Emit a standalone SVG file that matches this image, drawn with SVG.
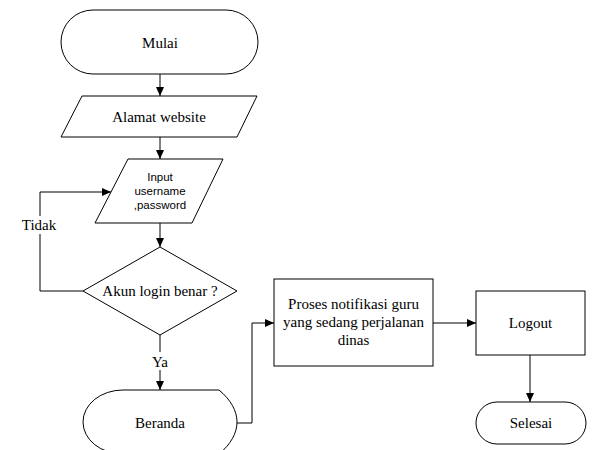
<svg xmlns="http://www.w3.org/2000/svg" width="592" height="450" viewBox="0 0 592 450">
<style>
.s{fill:#fff;stroke:#000;stroke-width:1}
.t{font-family:"Liberation Serif","Times New Roman",serif;font-size:15px;fill:#000;text-anchor:middle}
.ts{font-family:"Liberation Sans",Arial,sans-serif;font-size:11.5px;fill:#000;text-anchor:middle}
.c{fill:none;stroke:#000;stroke-width:1}
</style>
<defs>
<marker id="a" markerWidth="10" markerHeight="8" refX="9" refY="4" orient="auto" markerUnits="userSpaceOnUse">
<path d="M0,0 L9,4 L0,8 Z" fill="#000"/>
</marker>
</defs>
<rect width="592" height="450" fill="#fff"/>
<g id="connectors">
<path class="c" d="M160,74 V96" marker-end="url(#a)"/>
<path class="c" d="M160,137 V159" marker-end="url(#a)"/>
<path class="c" d="M160,223 V247" marker-end="url(#a)"/>
<path class="c" d="M83,291 H40 V192 H111" marker-end="url(#a)"/>
<rect x="18" y="216" width="42" height="18" fill="#fff"/>
<text class="t" x="39" y="230">Tidak</text>
<path class="c" d="M160,335 V390" marker-end="url(#a)"/>
<rect x="148" y="352" width="24" height="18" fill="#fff"/>
<text class="t" x="160" y="367">Ya</text>
<path class="c" d="M237,423 H252 V323 H274" marker-end="url(#a)"/>
<path class="c" d="M433,323 H476" marker-end="url(#a)"/>
<path class="c" d="M530,355 V402" marker-end="url(#a)"/>
</g>
<g id="mulai">
<rect class="s" x="61" y="10" width="197" height="64" rx="32" ry="32"/>
<text class="t" x="160" y="48">Mulai</text>
</g>
<g id="alamat">
<polygon class="s" points="82,96 257,96 237,137 61,137"/>
<text class="t" x="159" y="122">Alamat website</text>
</g>
<g id="input">
<polygon class="s" points="128,159 223,159 192,223 95,223"/>
<text class="ts" x="160" y="181">Input</text>
<text class="ts" x="160" y="195">username</text>
<text class="ts" x="160" y="209">,password</text>
</g>
<g id="akun">
<polygon class="s" points="160,247 237,291 160,335 83,291"/>
<text class="t" x="160" y="296">Akun login benar ?</text>
</g>
<g id="beranda">
<path class="s" d="M123,390 H219 C231,400 237,411 237,422 C237,433 231,444 219,454 H123 A40,32 0 0 1 123,390 Z"/>
<text class="t" x="160" y="428">Beranda</text>
</g>
<g id="proses">
<rect class="s" x="274" y="279" width="159" height="87"/>
<text class="t" x="353.5" y="309">Proses notifikasi guru</text>
<text class="t" x="353.5" y="327">yang sedang perjalanan</text>
<text class="t" x="353.5" y="345">dinas</text>
</g>
<g id="logout">
<rect class="s" x="476" y="291" width="109" height="64"/>
<text class="t" x="530.5" y="328">Logout</text>
</g>
<g id="selesai">
<rect class="s" x="476" y="402" width="110" height="42" rx="21" ry="21"/>
<text class="t" x="531" y="428">Selesai</text>
</g>
</svg>
